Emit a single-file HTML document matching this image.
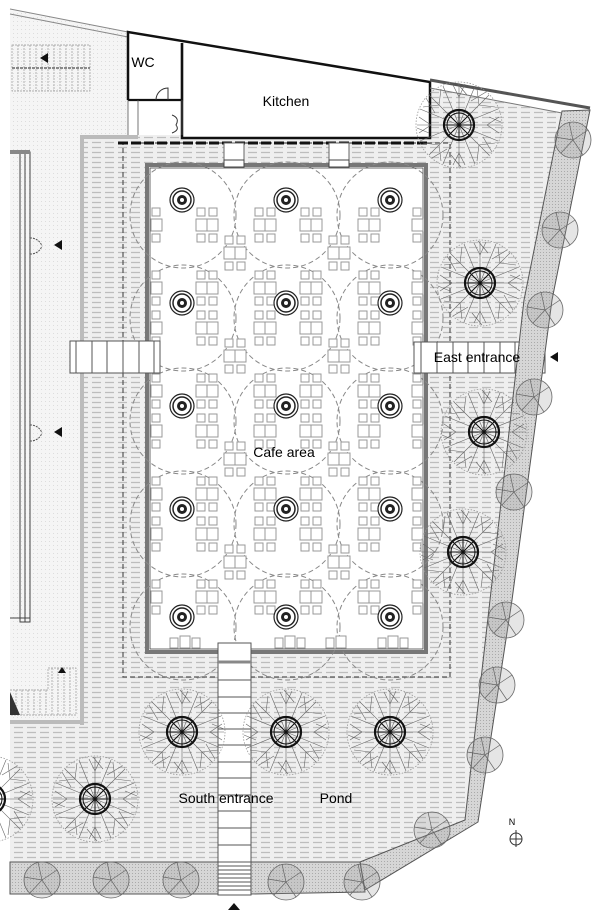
<!DOCTYPE html>
<html><head><meta charset="utf-8"><style>
html,body{margin:0;padding:0;background:#fff}
svg{display:block}
text{font-family:"Liberation Sans",sans-serif;fill:#000}
</style></head><body>
<svg width="600" height="913" viewBox="0 0 600 913" xmlns="http://www.w3.org/2000/svg">
<defs>
<pattern id="pave" width="13" height="5" patternUnits="userSpaceOnUse">
<rect width="13" height="5" fill="#efefef"/>
<line x1="1" y1="2.5" x2="10" y2="2.5" stroke="#bdbdbd" stroke-width="1.3"/>
</pattern>
<pattern id="dots" width="4" height="4" patternUnits="userSpaceOnUse">
<rect width="4" height="4" fill="#f5f5f5"/><rect x="1" y="1" width="1" height="1" fill="#ddd"/>
</pattern>
<pattern id="band" width="3" height="3" patternUnits="userSpaceOnUse">
<rect width="3" height="3" fill="#d6d6d6"/><rect width="1" height="1" fill="#aaa"/>
</pattern>
<g id="lamp">
<circle r="12" fill="#fff" stroke="#222" stroke-width="1.2"/>
<circle r="9" fill="none" stroke="#222" stroke-width="1.5"/>
<circle r="5" fill="#222"/><circle r="2" fill="#fff"/>
</g>
<g id="tab" fill="#fff" stroke="#999" stroke-width="1">
<rect x="-10" y="-17" width="8" height="8"/><rect x="2" y="-17" width="8" height="8"/>
<rect x="-11" y="-6" width="11" height="12"/><rect x="0" y="-6" width="11" height="12"/>
<rect x="-10" y="9" width="8" height="8"/><rect x="2" y="9" width="8" height="8"/>
</g>
<g id="tab1" fill="#fff" stroke="#999" stroke-width="1">
<rect x="-4" y="-17" width="8" height="8"/><rect x="-5" y="-6" width="11" height="12"/><rect x="-4" y="9" width="8" height="8"/>
</g>
<g id="tree">
<circle r="43" fill="none" stroke="#999" stroke-width="0.8" stroke-dasharray="1.5 1.5"/>
<g stroke="#666" stroke-width="0.6" fill="none">
<path d="M0 0L0 -42M0 0L30 -30M0 0L42 0M0 0L30 30M0 0L0 42M0 0L-30 30M0 0L-42 0M0 0L-30 -30M0 0L16 -39M0 0L39 -16M0 0L39 16M0 0L16 39M0 0L-16 39M0 0L-39 16M0 0L-39 -16M0 0L-16 -39"/>
<path d="M0 -28L-6 -40M0 -28L6 -41M20 -20L18 -36M20 -20L36 -18M28 0L40 -8M28 0L40 8M20 20L36 18M20 20L18 36M0 28L6 40M0 28L-6 40M-20 20L-18 36M-20 20L-36 18M-28 0L-40 8M-28 0L-40 -8M-20 -20L-36 -18M-20 -20L-18 -36"/>
<path d="M8 -30L-2 -42M30 -8L42 -3M-8 30L2 42M-30 8L-42 3M24 12L33 27M-24 -12L-33 -27M12 -24L27 -33M-12 24L-27 33"/>
</g>
<circle r="15" fill="none" stroke="#111" stroke-width="2.2"/>
<circle r="12" fill="none" stroke="#111" stroke-width="1"/>
<path d="M0 -15V15M-15 0H15M-10.6 -10.6L10.6 10.6M10.6 -10.6L-10.6 10.6" stroke="#111" stroke-width="1"/>
</g>
<g id="st">
<circle r="18" fill="rgba(150,150,150,0.25)" stroke="#666" stroke-width="0.8"/>
<path d="M0 0L-4 -18M0 0L15 -10M0 0L10 15M0 0L-12 13M0 0L-18 -3" stroke="#666" stroke-width="0.7"/>
</g>
</defs>

<polygon points="10,10 128,32 128,135 80,135 80,722 10,722" fill="url(#dots)"/>
<line x1="10" y1="9" x2="128" y2="32" stroke="#888" stroke-width="1"/>
<line x1="10" y1="14" x2="128" y2="37" stroke="#888" stroke-width="1"/>
<g stroke="#999" stroke-width="0.7" stroke-dasharray="2 1">
<rect x="12" y="45" width="78" height="46" fill="none"/>
<path d="M18 45V91M24 45V91M30 45V91M36 45V91M42 45V91M48 45V91M54 45V91M60 45V91M66 45V91M72 45V91M78 45V91M84 45V91"/>
</g>
<line x1="12" y1="68" x2="90" y2="68" stroke="#666" stroke-width="1.5" stroke-dasharray="3 1"/>
<polygon points="40,58 48,53 48,63" fill="#111"/>

<polygon points="80,135 430,135 430,88 562,113 524,300 490,600 465,820 360,862 10,862 10,722 80,722" fill="url(#pave)"/>
<rect x="10" y="150" width="70" height="572" fill="url(#dots)"/>
<rect x="80" y="135" width="4" height="590" fill="#bbb"/>
<rect x="10" y="720" width="74" height="4" fill="#bbb"/>
<rect x="80" y="135" width="58" height="4" fill="#bbb"/>
<g stroke="#444" fill="none" stroke-width="1">
<rect x="20" y="152" width="10" height="470"/>
<line x1="25" y1="152" x2="25" y2="622"/>
<line x1="10" y1="152" x2="30" y2="152"/>
<line x1="10" y1="618" x2="30" y2="618"/>
</g>
<rect x="10" y="150" width="20" height="4" fill="#888"/>
<polygon points="54,245 62,240 62,250" fill="#111"/>
<polygon points="54,432 62,427 62,437" fill="#111"/>
<path d="M30 238 A12 12 0 0 1 42 246 M30 254 A12 12 0 0 0 42 246" stroke="#555" stroke-dasharray="2 1" fill="none"/>
<path d="M30 425 A12 12 0 0 1 42 433 M30 441 A12 12 0 0 0 42 433" stroke="#555" stroke-dasharray="2 1" fill="none"/>
<g stroke="#999" stroke-width="0.7" stroke-dasharray="2 1" fill="none">
<path d="M10 690H48V668H76V715H10"/>
<path d="M16 690V715M22 690V715M28 690V715M34 690V715M40 690V715M46 690V715M52 668V715M58 668V715M64 668V715M70 668V715"/>
</g>
<polygon points="10,692 20,715 10,715" fill="#333"/>
<polygon points="58,673 62,667 66,673" fill="#111"/>

<rect x="123" y="143" width="327" height="534" fill="none" stroke="#555" stroke-width="1.2" stroke-dasharray="5 3"/>
<rect x="147" y="165" width="279" height="487" fill="#fff" stroke="#777" stroke-width="4"/>
<g fill="none" stroke="#888" stroke-width="1" stroke-dasharray="5 3">
<circle cx="183" cy="215" r="53"/><circle cx="287" cy="215" r="53"/><circle cx="390" cy="215" r="53"/>
<circle cx="183" cy="318" r="53"/><circle cx="287" cy="318" r="53"/><circle cx="390" cy="318" r="53"/>
<circle cx="183" cy="421" r="53"/><circle cx="287" cy="421" r="53"/><circle cx="390" cy="421" r="53"/>
<circle cx="183" cy="524" r="53"/><circle cx="287" cy="524" r="53"/><circle cx="390" cy="524" r="53"/>
<circle cx="183" cy="627" r="53"/><circle cx="287" cy="627" r="53"/><circle cx="390" cy="627" r="53"/>
</g>
<rect x="150" y="168" width="273" height="481" fill="none" stroke="#444" stroke-width="0.8"/>
<g>
<use href="#tab" x="207" y="225"/><use href="#tab" x="265" y="225"/><use href="#tab" x="311" y="225"/><use href="#tab" x="369" y="225"/>
<use href="#tab" x="235" y="253"/><use href="#tab" x="339" y="253"/>
<use href="#tab" x="207" y="288"/><use href="#tab" x="265" y="288"/><use href="#tab" x="311" y="288"/><use href="#tab" x="369" y="288"/>
<use href="#tab" x="207" y="328"/><use href="#tab" x="265" y="328"/><use href="#tab" x="311" y="328"/><use href="#tab" x="369" y="328"/>
<use href="#tab" x="235" y="356"/><use href="#tab" x="339" y="356"/>
<use href="#tab" x="207" y="391"/><use href="#tab" x="265" y="391"/><use href="#tab" x="311" y="391"/><use href="#tab" x="369" y="391"/>
<use href="#tab" x="207" y="431"/><use href="#tab" x="265" y="431"/><use href="#tab" x="311" y="431"/><use href="#tab" x="369" y="431"/>
<use href="#tab" x="235" y="459"/><use href="#tab" x="339" y="459"/>
<use href="#tab" x="207" y="494"/><use href="#tab" x="265" y="494"/><use href="#tab" x="311" y="494"/><use href="#tab" x="369" y="494"/>
<use href="#tab" x="207" y="534"/><use href="#tab" x="265" y="534"/><use href="#tab" x="311" y="534"/><use href="#tab" x="369" y="534"/>
<use href="#tab" x="235" y="562"/><use href="#tab" x="339" y="562"/>
<use href="#tab" x="207" y="597"/><use href="#tab" x="265" y="597"/><use href="#tab" x="311" y="597"/><use href="#tab" x="369" y="597"/>
<use href="#tab1" x="156" y="225"/><use href="#tab1" x="156" y="288"/><use href="#tab1" x="156" y="328"/><use href="#tab1" x="156" y="391"/><use href="#tab1" x="156" y="431"/><use href="#tab1" x="156" y="494"/><use href="#tab1" x="156" y="534"/><use href="#tab1" x="156" y="597"/>
<use href="#tab1" x="417" y="225"/><use href="#tab1" x="417" y="288"/><use href="#tab1" x="417" y="328"/><use href="#tab1" x="417" y="391"/><use href="#tab1" x="417" y="431"/><use href="#tab1" x="417" y="494"/><use href="#tab1" x="417" y="534"/><use href="#tab1" x="417" y="597"/>
</g>
<g fill="#fff" stroke="#999"><rect x="170" y="638" width="8" height="10"/><rect x="180" y="636" width="10" height="12"/><rect x="192" y="638" width="8" height="10"/>
<rect x="275" y="638" width="8" height="10"/><rect x="285" y="636" width="10" height="12"/><rect x="297" y="638" width="8" height="10"/>
<rect x="326" y="638" width="8" height="10"/><rect x="336" y="636" width="10" height="12"/>
<rect x="378" y="638" width="8" height="10"/><rect x="388" y="636" width="10" height="12"/><rect x="400" y="638" width="8" height="10"/></g>
<g>
<use href="#lamp" x="182" y="200"/><use href="#lamp" x="286" y="200"/><use href="#lamp" x="390" y="200"/>
<use href="#lamp" x="182" y="303"/><use href="#lamp" x="286" y="303"/><use href="#lamp" x="390" y="303"/>
<use href="#lamp" x="182" y="406"/><use href="#lamp" x="286" y="406"/><use href="#lamp" x="390" y="406"/>
<use href="#lamp" x="182" y="509"/><use href="#lamp" x="286" y="509"/><use href="#lamp" x="390" y="509"/>
<use href="#lamp" x="182" y="617"/><use href="#lamp" x="286" y="617"/><use href="#lamp" x="390" y="617"/>
</g>

<polygon points="128,32 430,82 430,138 182,138 182,100 128,100" fill="#fff"/>
<path d="M128 100V32L430 82V138H182V43" fill="none" stroke="#111" stroke-width="2.5"/>
<path d="M182 43V100H128" fill="none" stroke="#111" stroke-width="2.2"/>
<path d="M156 100A12 12 0 0 1 168 88V100" fill="none" stroke="#333"/>
<path d="M128 100V135M138 100V135M182 100V135" stroke="#555" stroke-width="0.8" fill="none"/>
<path d="M172 115Q180 118 176 125Q180 130 172 133" stroke="#333" fill="none"/>
<line x1="118" y1="143" x2="430" y2="143" stroke="#111" stroke-width="3" stroke-dasharray="10 3"/>
<rect x="224" y="143" width="20" height="22" fill="#fff" stroke="#666"/>
<rect x="329" y="143" width="20" height="22" fill="#fff" stroke="#666"/>
<rect x="224" y="160" width="20" height="7" fill="#fff" stroke="#444"/>
<rect x="329" y="160" width="20" height="7" fill="#fff" stroke="#444"/>

<g fill="#fff" stroke="#555" stroke-width="1">
<rect x="70" y="341" width="90" height="32"/>
<path d="M76 341V373M92 341V373M107 341V373M123 341V373M139 341V373M154 341V373"/>
</g>
<g fill="#fff" stroke="#555" stroke-width="1">
<rect x="414" y="342" width="131" height="31"/>
<path d="M421 342V373M437 342V373M453 342V373M468 342V373M484 342V373M500 342V373M515 342V373M524 342V373M533 342V373"/>
</g>
<polygon points="550,357 558,352 558,362" fill="#111"/>

<polygon points="562,111 590,110 552,300 512,600 478,822 365,890 360,862 465,820 490,600 524,300" fill="url(#band)" stroke="#555" stroke-width="1"/>
<line x1="430" y1="80" x2="590" y2="108" stroke="#555" stroke-width="3"/>
<line x1="430" y1="88" x2="562" y2="113" stroke="#777" stroke-width="1"/>
<rect x="10" y="862" width="208" height="32" fill="url(#band)" stroke="#555"/>
<polygon points="251,862 360,862 365,892 251,894" fill="url(#band)" stroke="#555"/>
<g fill="#fff" stroke="#555" stroke-width="1">
<rect x="218" y="643" width="33" height="252"/>
<path d="M218 680H251M218 697H251M218 713H251M218 729H251M218 745H251M218 762H251M218 778H251M218 795H251M218 811H251M218 828H251M218 845H251M218 862H251M218 866H251M218 870H251M218 874H251M218 878H251M218 882H251M218 886H251M218 890H251"/>
<path d="M218 662H251" stroke-width="3" stroke="#888"/>
</g>
<polygon points="228,910 234,903 240,910" fill="#111"/>

<use href="#tree" x="459" y="125"/>
<use href="#tree" x="480" y="283"/>
<use href="#tree" x="484" y="432"/>
<use href="#tree" x="463" y="552"/>
<use href="#tree" x="182" y="732"/>
<use href="#tree" x="286" y="732"/>
<use href="#tree" x="390" y="732"/>
<use href="#tree" x="95" y="799"/>
<use href="#tree" x="-10" y="799"/>
<use href="#st" x="573" y="140"/><use href="#st" x="560" y="230"/><use href="#st" x="545" y="310"/>
<use href="#st" x="534" y="397"/><use href="#st" x="514" y="492"/><use href="#st" x="506" y="620"/>
<use href="#st" x="497" y="685"/><use href="#st" x="485" y="755"/><use href="#st" x="432" y="830"/>
<use href="#st" x="362" y="882"/><use href="#st" x="286" y="882"/><use href="#st" x="181" y="880"/>
<use href="#st" x="111" y="880"/><use href="#st" x="42" y="880"/>

<text x="512" y="825" font-size="9" text-anchor="middle">N</text>
<circle cx="516" cy="839" r="6" fill="none" stroke="#333"/>
<path d="M516 830V847M510 839H522" stroke="#333"/>

<text x="143" y="67" font-size="14" text-anchor="middle">WC</text>
<text x="286" y="106" font-size="14" text-anchor="middle">Kitchen</text>
<text x="284" y="457" font-size="14" text-anchor="middle">Cafe area</text>
<text x="477" y="362" font-size="14" text-anchor="middle">East entrance</text>
<text x="226" y="803" font-size="14" text-anchor="middle">South entrance</text>
<text x="336" y="803" font-size="14" text-anchor="middle">Pond</text>
</svg>
</body></html>
